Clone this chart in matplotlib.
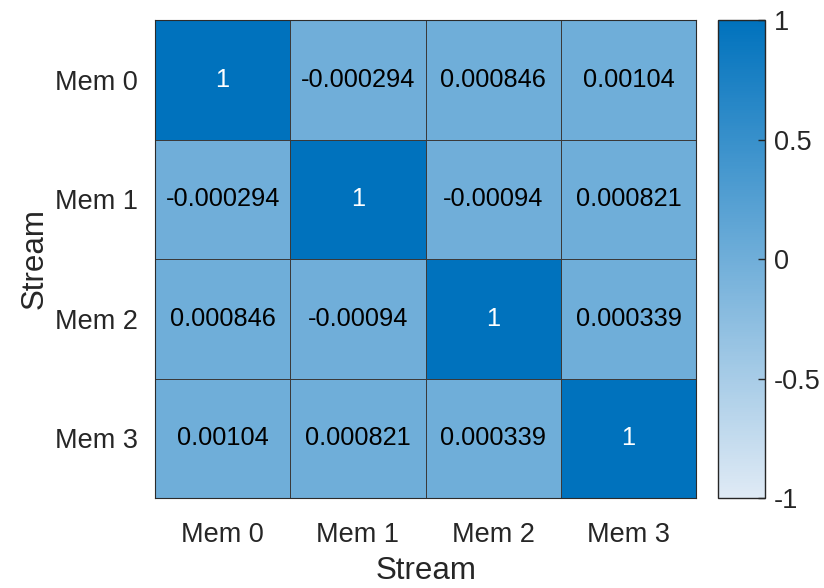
import numpy as np
import matplotlib
matplotlib.use("Agg")
import matplotlib.pyplot as plt
from matplotlib.colors import LinearSegmentedColormap

plt.rcParams['font.family'] = ['Liberation Sans', 'DejaVu Sans']

labels = ["Mem 0", "Mem 1", "Mem 2", "Mem 3"]
corr = np.array([
    [1.0,       -0.000294, 0.000846, 0.00104],
    [-0.000294, 1.0,       -0.00094, 0.000821],
    [0.000846,  -0.00094,  1.0,      0.000339],
    [0.00104,   0.000821,  0.000339, 1.0],
])
cell_text = [
    ["1", "-0.000294", "0.000846", "0.00104"],
    ["-0.000294", "1", "-0.00094", "0.000821"],
    ["0.000846", "-0.00094", "1", "0.000339"],
    ["0.00104", "0.000821", "0.000339", "1"],
]
cbar_ticks = [-1, -0.5, 0, 0.5, 1]
cbar_ticklabels = ["-1", "-0.5", "0", "0.5", "1"]

cmap = LinearSegmentedColormap.from_list(
    "blues", [(0.875, 0.918, 0.961), (0.0, 0.447, 0.741)])

fig = plt.figure(figsize=(8.24, 5.88), dpi=100)
ax = fig.add_axes([0.188, 0.153, 0.657, 0.813])
cax = fig.add_axes([0.871, 0.153, 0.058, 0.813])

n = len(labels)
mesh = ax.pcolormesh(np.arange(n + 1), np.arange(n + 1), corr, cmap=cmap,
                     vmin=-1, vmax=1, edgecolors="#3a3a3a", linewidth=0.6)
ax.set_xlim(0, n)
ax.set_ylim(n, 0)
for i in range(n):
    for j in range(n):
        color = "white" if corr[i, j] > 0.5 else "black"
        ax.text(j + 0.5, i + 0.5, cell_text[i][j], ha="center", va="center",
                fontsize=18.3, color=color)

ax.set_xticks(np.arange(n) + 0.5)
ax.set_xticklabels(labels, fontsize=19.5, color="#262626")
ax.set_yticks(np.arange(n) + 0.5)
ax.set_yticklabels(labels, fontsize=19.5, color="#262626")
ax.tick_params(axis="x", length=0, pad=17)
ax.tick_params(axis="y", length=0, pad=12)
ax.set_xlabel("Stream", fontsize=22.5, color="#262626", labelpad=6)
ax.set_ylabel("Stream", fontsize=22.5, color="#262626", labelpad=4)
for s in ax.spines.values():
    s.set_color("#2b2b2b")
    s.set_linewidth(0.8)

cb = fig.colorbar(mesh, cax=cax, ticks=cbar_ticks)
cb.set_ticklabels(cbar_ticklabels)
cb.outline.set_edgecolor("#262626")
cb.outline.set_linewidth(1.0)
cax.tick_params(direction="in", length=5, width=1, labelsize=19.5,
                colors="#262626", pad=6)

fig.savefig("out.png", dpi=100, facecolor="white")
